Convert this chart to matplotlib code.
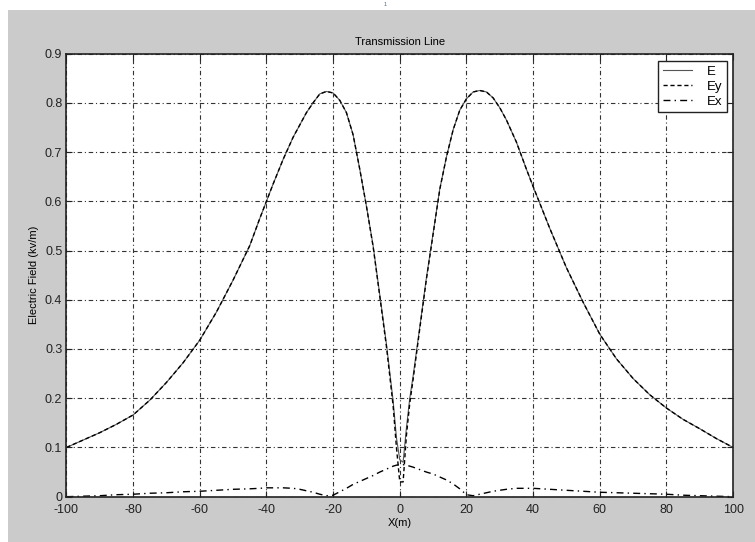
import matplotlib.pyplot as plt
from matplotlib.patches import Rectangle

# x positions (m) and field values (kV/m)
x = [-100, -95, -90, -85, -80, -75, -70, -65, -60, -55, -50, -45, -42, -40, -38,
     -35, -32, -30, -28, -26, -24, -22, -20, -18, -16, -14, -12, -10, -8, -6, -4,
     -2, -1, 0, 1, 2, 3, 4, 6, 8, 10, 12, 14, 16, 18, 20, 22, 24, 26, 28, 30, 32,
     35, 38, 40, 45, 50, 55, 60, 65, 70, 75, 80, 85, 90, 95, 100]
E = [0.100, 0.115, 0.130, 0.147, 0.166, 0.196, 0.232, 0.272, 0.318, 0.375, 0.440,
     0.510, 0.565, 0.600, 0.635, 0.685, 0.730, 0.755, 0.780, 0.800, 0.818, 0.823,
     0.820, 0.805, 0.780, 0.735, 0.665, 0.590, 0.510, 0.410, 0.310, 0.195, 0.120,
     0.075, 0.070, 0.140, 0.200, 0.245, 0.345, 0.445, 0.535, 0.625, 0.690, 0.745,
     0.785, 0.808, 0.822, 0.825, 0.822, 0.810, 0.790, 0.765, 0.720, 0.665, 0.630,
     0.545, 0.465, 0.395, 0.330, 0.280, 0.240, 0.207, 0.180, 0.157, 0.138, 0.118,
     0.100]
Ey = [0.100, 0.115, 0.130, 0.147, 0.166, 0.196, 0.232, 0.272, 0.318, 0.375, 0.440,
      0.510, 0.565, 0.600, 0.635, 0.685, 0.730, 0.755, 0.780, 0.800, 0.818, 0.823,
      0.820, 0.805, 0.780, 0.735, 0.665, 0.590, 0.508, 0.407, 0.305, 0.185, 0.100,
      0.030, 0.030, 0.125, 0.190, 0.238, 0.341, 0.442, 0.533, 0.624, 0.690, 0.745,
      0.785, 0.808, 0.822, 0.825, 0.822, 0.810, 0.790, 0.765, 0.720, 0.665, 0.630,
      0.545, 0.465, 0.395, 0.330, 0.280, 0.240, 0.207, 0.180, 0.157, 0.138, 0.118,
      0.100]
Ex = [0.000, 0.001, 0.002, 0.004, 0.005, 0.007, 0.008, 0.010, 0.011, 0.013, 0.015,
      0.016, 0.017, 0.018, 0.018, 0.018, 0.017, 0.015, 0.012, 0.009, 0.005, 0.002,
      0.003, 0.010, 0.017, 0.025, 0.031, 0.037, 0.043, 0.050, 0.056, 0.062, 0.064,
      0.065, 0.065, 0.064, 0.062, 0.060, 0.055, 0.050, 0.046, 0.040, 0.034, 0.026,
      0.016, 0.004, 0.002, 0.005, 0.008, 0.011, 0.013, 0.015, 0.017, 0.017, 0.017,
      0.015, 0.013, 0.011, 0.009, 0.008, 0.007, 0.006, 0.005, 0.003, 0.002, 0.001,
      0.000]

xticks = [-100, -80, -60, -40, -20, 0, 20, 40, 60, 80, 100]
yticks = [0, 0.1, 0.2, 0.3, 0.4, 0.5, 0.6, 0.7, 0.8, 0.9]

plt.rcParams['font.family'] = ['Liberation Sans', 'DejaVu Sans']

fig = plt.figure(figsize=(7.55, 5.42), dpi=100, facecolor='white')
# grey figure window (page scan leaves a white margin top/left)
fig.patches.append(Rectangle((8 / 755, 0), 1, 1 - 10 / 542, transform=fig.transFigure,
                             facecolor='#cbcbcb', edgecolor='none', zorder=-10))
fig.text(385 / 755, 1 - 5 / 542, '1', fontsize=4, color='#556677', ha='center', va='center')

ax = fig.add_axes([0.088, 0.0836, 0.883, 0.8176])
ax.set_facecolor('white')

ax.plot(x, E, color='#555555', linewidth=0.8, linestyle='-', label='E')
ax.plot(x, Ey, color='black', linewidth=1.0, linestyle=(0, (3, 2)), label='Ey')
ax.plot(x, Ex, color='black', linewidth=1.0, linestyle=(0, (5, 3, 1, 3)), label='Ex')

ax.set_xlim(-100, 100)
ax.set_ylim(0, 0.9)
ax.set_xticks(xticks)
ax.set_yticks(yticks)
ax.set_xticklabels([str(t) for t in xticks])
ax.set_yticklabels(['0'] + [f'{t:.1f}' for t in yticks[1:]])
ax.tick_params(direction='in', length=4, width=0.8, labelsize=9, top=True, right=True,
               labeltop=False, labelright=False, colors='#222222')
ax.tick_params(axis='x', pad=5)
ax.tick_params(axis='y', pad=3)
ax.grid(True, color='#333333', linestyle=(0, (4, 2.5, 1, 2.5)), linewidth=0.8)
for s in ax.spines.values():
    s.set_linewidth(1.2)
    s.set_color('#222222')

ax.set_title('Transmission Line', fontsize=8, pad=6)
ax.set_xlabel('X(m)', fontsize=8, labelpad=2)
ax.set_ylabel('Electric Field (kv/m)', fontsize=8, labelpad=4)

leg = ax.legend(loc='upper right', bbox_to_anchor=(0.9905, 0.983), fontsize=9.5,
                fancybox=False, edgecolor='#222222', framealpha=1, handlelength=2.2,
                borderpad=0.35, labelspacing=0.2, handletextpad=1.1, borderaxespad=0)
leg.get_frame().set_linewidth(1.0)

fig.savefig('out.png', dpi=100, facecolor=fig.get_facecolor())
